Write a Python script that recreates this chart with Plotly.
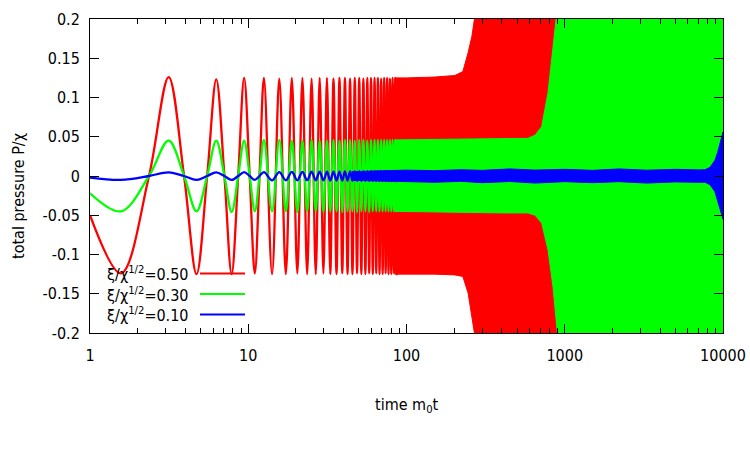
import plotly.graph_objects as go

# ---------------- data ----------------
# times of resolved extrema / zero crossings (m0 t)
t_res = [1.0, 1.57, 2.36, 3.14, 3.93, 4.71, 5.50, 6.28, 7.07, 7.85, 8.64, 9.42,
         10.21, 11.00, 11.78, 12.57,
         14.14, 15.71, 17.28, 18.85, 20.42, 21.99, 23.56, 25.13, 26.70, 28.27,
         29.85, 31.42, 32.99, 34.56, 36.13, 37.70, 39.27, 40.84, 42.41, 43.98,
         45.55, 47.12, 48.69, 50.27, 51.84, 53.41, 54.98, 56.55, 58.12, 59.69,
         61.26, 62.83, 64.40, 65.97, 67.54, 69.12, 70.69, 72.26, 73.83, 75.40,
         76.97, 78.54, 80.11, 81.68, 83.25, 84.82, 86.39, 87.96]

red_p = [-0.050, -0.124, 0.0, 0.126, 0.0, -0.125, 0.0, 0.123, 0.0, -0.125, 0.0, 0.125,
         0.0, -0.124, 0.0, 0.125,
         -0.125, 0.124, -0.125, 0.125, -0.124, 0.125, -0.125, 0.124, -0.125, 0.125,
         -0.124, 0.125, -0.125, 0.124, -0.125, 0.125, -0.124, 0.125, -0.125, 0.124,
         -0.125, 0.125, -0.124, 0.125, -0.125, 0.124, -0.125, 0.125, -0.124, 0.125,
         -0.125, 0.125, -0.124, 0.125, -0.125, 0.124, -0.125, 0.125, -0.124, 0.125,
         -0.125, 0.124, -0.125, 0.125, -0.124, 0.125, -0.125, 0.125]

green_p = [-0.022, -0.045, 0.0, 0.045, 0.0, -0.045, 0.0, 0.045, 0.0, -0.046, 0.0, 0.045,
           0.0, -0.045, 0.0, 0.046,
           -0.045, 0.046, -0.045, 0.045, -0.046, 0.045, -0.045, 0.046, -0.045, 0.045,
           -0.046, 0.045, -0.045, 0.046, -0.045, 0.045, -0.046, 0.046, -0.045, 0.046,
           -0.045, 0.045, -0.046, 0.046, -0.045, 0.046, -0.045, 0.045, -0.046, 0.046,
           -0.045, 0.046, -0.045, 0.046, -0.045, 0.046, -0.045, 0.046, -0.045, 0.046,
           -0.045, 0.046, -0.045, 0.046, -0.045, 0.046, -0.045, 0.046]

blue_p = [-0.002, -0.005, 0.0, 0.0047, 0.0, -0.005, 0.0, 0.0047, 0.0, -0.005, 0.0, 0.005,
          0.0, -0.005, 0.0, 0.005,
          -0.0055, 0.005, -0.0055, 0.0052, -0.0055, 0.0052, -0.0056, 0.0054, -0.0056, 0.0055,
          -0.0057, 0.0055, -0.0058, 0.0056, -0.0058, 0.0057, -0.0059, 0.0058, -0.006, 0.0058,
          -0.006, 0.006, -0.006, 0.006, -0.0062, 0.006, -0.0062, 0.006, -0.0062, 0.0062,
          -0.0062, 0.0062, -0.0063, 0.0063, -0.0064, 0.0064, -0.0064, 0.0064, -0.0065, 0.0065,
          -0.0065, 0.0065, -0.0066, 0.0066, -0.0066, 0.0066, -0.0067, 0.0067]

# envelopes of the unresolved (dense) oscillations
red_env_t = [84.0, 100, 150, 202, 227, 245, 259, 271, 300, 1000]
red_env_hi = [0.125, 0.125, 0.126, 0.128, 0.133, 0.157, 0.178, 0.205, 0.3, 0.3]
red_env_lo = [-0.125, -0.125, -0.125, -0.126, -0.128, -0.149, -0.180, -0.205, -0.3, -0.3]

green_env_t = [84.0, 200, 400, 586, 650, 715, 784, 843, 889, 911, 1000, 10000]
green_env_hi = [0.046, 0.047, 0.048, 0.048, 0.052, 0.063, 0.106, 0.157, 0.195, 0.21, 0.3, 0.3]
green_env_lo = [-0.045, -0.046, -0.047, -0.047, -0.050, -0.060, -0.094, -0.141, -0.190, -0.21, -0.3, -0.3]

blue_env_t = [45, 70, 100, 150, 220, 300, 450, 650, 1000, 1500, 2200, 3300, 5000,
              7000, 7700, 8280, 8890, 9250, 9570, 10000]
blue_env_hi = [0.0055, 0.0065, 0.0075, 0.0068, 0.008, 0.0072, 0.009, 0.0075, 0.0085,
               0.0072, 0.009, 0.0074, 0.0085, 0.0078, 0.008, 0.011, 0.020, 0.030, 0.042, 0.056]
blue_env_lo = [-0.0055, -0.0065, -0.007, -0.008, -0.0068, -0.0085, -0.007, -0.009, -0.0072,
               -0.0085, -0.0072, -0.009, -0.0075, -0.008, -0.008, -0.011, -0.020, -0.030, -0.041, -0.055]

series_names = ["ξ/χ<sup>1/2</sup>=0.50", "ξ/χ<sup>1/2</sup>=0.30", "ξ/χ<sup>1/2</sup>=0.10"]
series_colors = ["#ff0000", "#00ff00", "#0000ff"]

x_tick_vals = [1, 10, 100, 1000, 10000]
x_tick_text = ["1", "10", "100", "1000", "10000"]
y_tick_vals = [0.2, 0.15, 0.1, 0.05, 0.0, -0.05, -0.1, -0.15, -0.2]
y_tick_text = ["0.2", "0.15", "0.1", "0.05", "0", "-0.05", "-0.1", "-0.15", "-0.2"]

FONT = "DejaVu Sans Condensed, DejaVu Sans, sans-serif"

# ---------------- figure ----------------
fig = go.Figure()

curves = [(red_p, red_env_t, red_env_hi, red_env_lo),
          (green_p, green_env_t, green_env_hi, green_env_lo),
          (blue_p, blue_env_t, blue_env_hi, blue_env_lo)]

for (p, et, ehi, elo), name, col in zip(curves, series_names, series_colors):
    fig.add_trace(go.Scatter(x=t_res, y=p, mode="lines", name=name,
                             line=dict(color=col, width=2.3, shape="spline"),
                             showlegend=False, hoverinfo="skip"))
    fig.add_trace(go.Scatter(x=et + et[::-1], y=ehi + elo[::-1], mode="lines",
                             fill="toself", fillcolor=col,
                             line=dict(color=col, width=1),
                             showlegend=False, hoverinfo="skip"))

# plot-area geometry (pixels) used for the hand-made gnuplot-style key
L, R, T, B = 90, 723, 19, 333
W, H = R - L, B - T


def px(xp):
    return (xp - L) / W


def py(yp):
    return (B - yp) / H


annotations = []
shapes = []
key_rows = [273.5, 294, 314.5]
for name, col, yr in zip(series_names, series_colors, key_rows):
    annotations.append(dict(x=px(191), y=py(yr), xref="paper", yref="paper",
                            text=name, showarrow=False, xanchor="right", yanchor="middle",
                            font=dict(family=FONT, size=16, color="black")))
    shapes.append(dict(type="line", xref="paper", yref="paper",
                       x0=px(200), x1=px(245), y0=py(yr), y1=py(yr),
                       line=dict(color=col, width=2)))

annotations.append(dict(x=0.5, y=py(405), xref="paper", yref="paper",
                        text="time m<sub>0</sub>t", showarrow=False,
                        xanchor="center", yanchor="middle",
                        font=dict(family=FONT, size=16, color="black")))
annotations.append(dict(x=px(18), y=py(196), xref="paper", yref="paper",
                        text="total pressure P/χ", showarrow=False, textangle=-90,
                        xanchor="center", yanchor="middle",
                        font=dict(family=FONT, size=16, color="black")))

minor_vals = [m * d for d in (1, 10, 100, 1000) for m in range(2, 10)]

fig.update_layout(
    width=750, height=450,
    margin=dict(l=L, r=750 - R, t=T, b=450 - B, pad=0, autoexpand=False),
    paper_bgcolor="white", plot_bgcolor="white",
    font=dict(family=FONT, size=16, color="black"),
    showlegend=False,
    annotations=annotations,
    shapes=shapes,
    xaxis=dict(type="log", range=[0, 4], tickmode="array", automargin=False,
               tickvals=x_tick_vals, ticktext=x_tick_text,
               ticks="inside", ticklen=9, tickcolor="black", tickwidth=1,
               minor=dict(ticks="inside", ticklen=5, tickcolor="black",
                          tickmode="array", tickvals=minor_vals, showgrid=False),
               showline=True, linecolor="black", linewidth=1, mirror="allticks",
               showgrid=False, zeroline=False, ticklabelstandoff=8,
               tickfont=dict(family=FONT, size=16, color="black")),
    yaxis=dict(range=[-0.2, 0.2], tickmode="array", automargin=False,
               tickvals=y_tick_vals, ticktext=y_tick_text,
               ticks="inside", ticklen=9, tickcolor="black", tickwidth=1,
               showline=True, linecolor="black", linewidth=1, mirror="allticks",
               showgrid=False, zeroline=False, ticklabelstandoff=6,
               tickfont=dict(family=FONT, size=16, color="black")),
)

fig.write_html("out.html")
